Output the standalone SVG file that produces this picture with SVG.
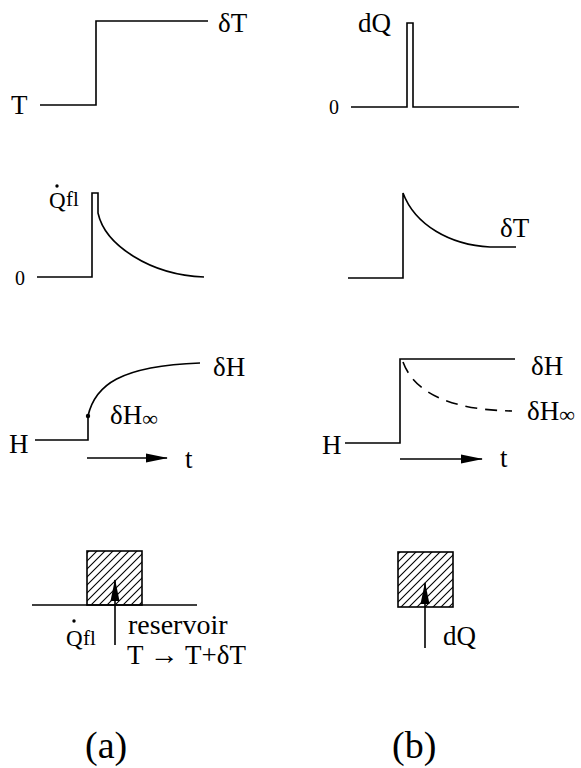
<svg xmlns="http://www.w3.org/2000/svg" width="581" height="768" viewBox="0 0 581 768" font-family="'Liberation Serif', 'Times New Roman', 'DejaVu Serif', serif">
<style>
  .ln{fill:none;stroke:#000;stroke-width:1.6}
  .dash{fill:none;stroke:#000;stroke-width:1.6;stroke-dasharray:12 8}
  text{font-family:'Liberation Serif','Times New Roman','DejaVu Serif',serif;fill:#000}
  .l{font-size:27px}
  .s{font-size:20px}
  .cap{font-size:38px}
</style>
<defs>
  <marker id="ah" viewBox="0 0 22 10" markerWidth="22" markerHeight="10" refX="21" refY="5" orient="auto" markerUnits="userSpaceOnUse">
    <path d="M0,0.5 L22,5 L0,9.5 z" fill="#000"/>
  </marker>
  <pattern id="hatch" patternUnits="userSpaceOnUse" width="8" height="8">
    <path d="M0,8 L8,0 M-2,2 L2,-2 M6,10 L10,6" stroke="#000" stroke-width="1.1"/>
  </pattern>
</defs>

<g id="a1">
  <path class="ln" d="M40,105 H96 V21 H208"/>
  <text class="l" x="11" y="114">T</text>
  <text class="l" x="218" y="32">δT</text>
</g>

<g id="b1">
  <path class="ln" d="M351,107 H407 V23 H413 V107 H519"/>
  <text class="s" x="329" y="114">0</text>
  <text class="l" x="358" y="32">dQ</text>
</g>

<g id="a2">
  <path class="ln" d="M37,277 H92 V193 H98 V213 C105,245 150,275 204,277"/>
  <text class="s" x="15" y="285">0</text>
  <text x="49" y="208" font-size="23">Q</text>
  <circle cx="57" cy="186" r="1.7"/>
  <text x="66" y="206" font-size="21">fl</text>
</g>

<g id="b2">
  <path class="ln" d="M348,278 H403 V193 C415,225 450,245 490,247 L516,247"/>
  <text class="l" x="500" y="237">δT</text>
</g>

<g id="a3">
  <path class="ln" d="M35,440 H88 V416 C95,385 120,366 200,363"/>
  <circle cx="88" cy="416" r="2.2"/>
  <text class="l" x="9" y="453">H</text>
  <text class="l" x="213" y="376">δH</text>
  <text class="l" x="110" y="424">δH<tspan font-size="22" dy="2">∞</tspan></text>
  <text class="l" x="185" y="468">t</text>
</g>

<g id="b3">
  <path class="ln" d="M345,443 H400 V359 H515"/>
  <path class="dash" d="M403,362 C415,395 455,410 512,411"/>
  <text class="l" x="322" y="454">H</text>
  <text class="l" x="531" y="375">δH</text>
  <text class="l" x="527" y="420">δH<tspan font-size="22" dy="2">∞</tspan></text>
  <text class="l" x="500" y="467">t</text>
</g>

<g id="a4">
  <rect x="87" y="551" width="55" height="54" fill="url(#hatch)" stroke="#000" stroke-width="1.6"/>
  <path class="ln" d="M32,605 H197"/>
  <text x="66" y="646" font-size="23">Q</text>
  <circle cx="74" cy="621" r="1.7"/>
  <text x="83" y="645" font-size="21">fl</text>
  <text x="128" y="634" font-size="28">reservoir</text>
  <text x="127" y="664" font-size="27">T <tspan font-size="29">→</tspan> T+δT</text>
</g>

<g id="b4">
  <rect x="398" y="552" width="55" height="55" fill="url(#hatch)" stroke="#000" stroke-width="1.6"/>
  <text class="l" x="443" y="645">dQ</text>
</g>

<g id="labels">
  <text class="cap" x="85" y="758">(a)</text>
  <text class="cap" x="392" y="758">(b)</text>
</g>

<g id="connectors">
  <line class="ln" x1="87" y1="458" x2="167" y2="458" marker-end="url(#ah)"/>
  <line class="ln" x1="400" y1="459" x2="482" y2="459" marker-end="url(#ah)"/>
  <line class="ln" x1="115" y1="645" x2="115" y2="580" marker-end="url(#ah)"/>
  <line class="ln" x1="425" y1="648" x2="425" y2="583" marker-end="url(#ah)"/>
</g>
</svg>
